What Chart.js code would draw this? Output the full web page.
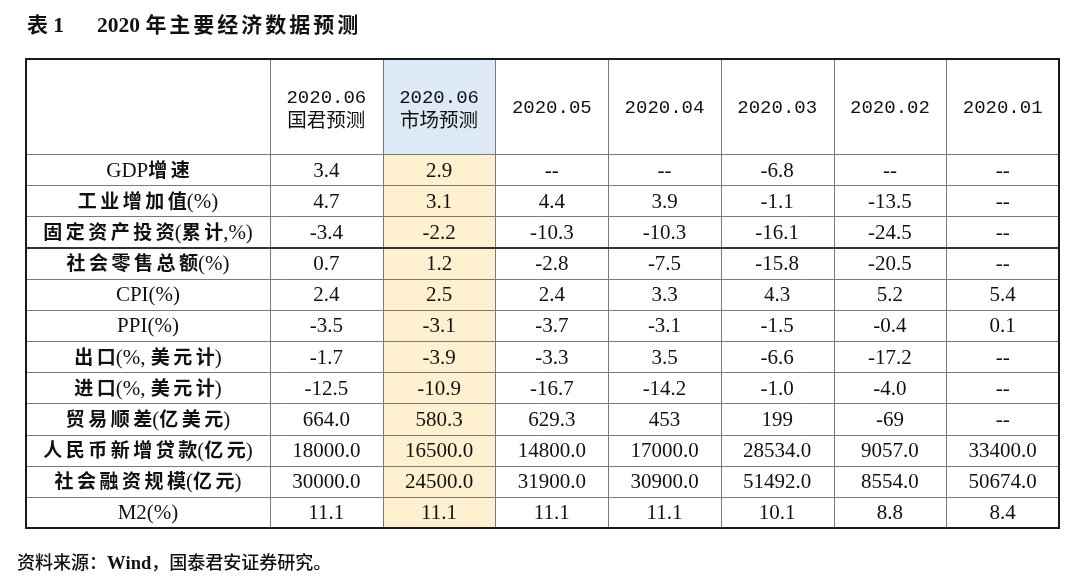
<!DOCTYPE html>
<html>
<head>
<meta charset="utf-8">
<script src="https://cdn.jsdelivr.net/npm/chart.js@4/dist/chart.umd.min.js"></script>
<style>
  body { margin: 0; background: #fff; }
</style>
</head>
<body>
<canvas id="table" width="1080" height="588"></canvas>
<script>
const titleNo = '表 1';
const titleText = '2020 年主要经济数据预测';
const sourceParts = ['资料来源：', 'Wind', '，国泰君安证券研究。'];

const periods = ['2020.06', '2020.06', '2020.05', '2020.04', '2020.03', '2020.02', '2020.01'];
const periodNotes = ['国君预测', '市场预测', '', '', '', '', ''];

const indicators = [
  'GDP增速', '工业增加值(%)', '固定资产投资(累计,%)', '社会零售总额(%)', 'CPI(%)', 'PPI(%)',
  '出口(%, 美元计)', '进口(%, 美元计)', '贸易顺差(亿美元)', '人民币新增贷款(亿元)', '社会融资规模(亿元)', 'M2(%)'
];

const gtjaForecast = ['3.4', '4.7', '-3.4', '0.7', '2.4', '-3.5', '-1.7', '-12.5', '664.0', '18000.0', '30000.0', '11.1'];
const marketForecast = ['2.9', '3.1', '-2.2', '1.2', '2.5', '-3.1', '-3.9', '-10.9', '580.3', '16500.0', '24500.0', '11.1'];
const may2020 = ['--', '4.4', '-10.3', '-2.8', '2.4', '-3.7', '-3.3', '-16.7', '629.3', '14800.0', '31900.0', '11.1'];
const apr2020 = ['--', '3.9', '-10.3', '-7.5', '3.3', '-3.1', '3.5', '-14.2', '453', '17000.0', '30900.0', '11.1'];
const mar2020 = ['-6.8', '-1.1', '-16.1', '-15.8', '4.3', '-1.5', '-6.6', '-1.0', '199', '28534.0', '51492.0', '10.1'];
const feb2020 = ['--', '-13.5', '-24.5', '-20.5', '5.2', '-0.4', '-17.2', '-4.0', '-69', '9057.0', '8554.0', '8.8'];
const jan2020 = ['--', '--', '--', '--', '5.4', '0.1', '--', '--', '--', '33400.0', '50674.0', '8.4'];

const columns = [gtjaForecast, marketForecast, may2020, apr2020, mar2020, feb2020, jan2020];

// table look
const highlightCol = 1;
const labelColWidth = 244;
const headerHeight = 95;
const ink = '#111';

function isCJK(ch) {
  return /[\u3000-\u303f\u4e00-\u9fff\uff00-\uffef]/.test(ch);
}

// draw text char by char, Latin and CJK in different fonts, extra gap between CJK chars
function drawMixed(ctx, text, x, y, latinFont, cjkFont, gap, align) {
  const chars = Array.from(text);
  const widths = chars.map((ch, i) => {
    ctx.font = isCJK(ch) ? cjkFont : latinFont;
    const next = chars[i + 1];
    return ctx.measureText(ch).width + (isCJK(ch) && next && isCJK(next) ? gap : 0);
  });
  const total = widths.reduce((a, b) => a + b, 0);
  let cx = align === 'center' ? x - total / 2 : x;
  ctx.textAlign = 'left';
  chars.forEach((ch, i) => {
    ctx.font = isCJK(ch) ? cjkFont : latinFont;
    ctx.fillText(ch, cx, y);
    cx += widths[i];
  });
  return cx;
}

const tablePlugin = {
  id: 'tableDraw',
  afterDraw(chart) {
    const { ctx, scales: { x, y } } = chart;
    const colW = x.getPixelForValue(1) - x.getPixelForValue(0);
    const rowH = y.getPixelForValue(1) - y.getPixelForValue(0);
    const left = x.left - labelColWidth;
    const right = x.right;
    const top = y.top - headerHeight;
    const bottom = y.bottom;

    ctx.save();
    ctx.fillStyle = '#fff';
    ctx.fillRect(0, 0, chart.width, chart.height);

    // highlighted column
    const hx = x.getPixelForValue(highlightCol) - colW / 2;
    ctx.fillStyle = '#dde9f6';
    ctx.fillRect(hx, top, colW, headerHeight);
    ctx.fillStyle = '#fff1cf';
    ctx.fillRect(hx, y.top, colW, bottom - y.top);

    // inner grid
    ctx.strokeStyle = '#7a7a7a';
    ctx.lineWidth = 1;
    ctx.beginPath();
    for (let r = 0; r < indicators.length; r++) {
      const py = Math.round(y.getPixelForValue(r) - rowH / 2) + 0.5;
      ctx.moveTo(left, py);
      ctx.lineTo(right, py);
    }
    const vx = [x.left];
    for (let c = 1; c < periods.length; c++) vx.push(x.getPixelForValue(c) - colW / 2);
    vx.forEach(v => {
      const px = Math.round(v) + 0.5;
      ctx.moveTo(px, top);
      ctx.lineTo(px, bottom);
    });
    ctx.stroke();

    // heavier rule under 固定资产投资
    ctx.strokeStyle = '#333';
    ctx.lineWidth = 2;
    ctx.beginPath();
    const ty = Math.round(y.getPixelForValue(3) - rowH / 2);
    ctx.moveTo(left, ty);
    ctx.lineTo(right, ty);
    ctx.stroke();

    // outer frame
    ctx.strokeStyle = '#1a1a1a';
    ctx.lineWidth = 2;
    ctx.strokeRect(Math.round(left), Math.round(top), Math.round(right - left), Math.round(bottom - top));

    ctx.fillStyle = ink;
    ctx.textBaseline = 'alphabetic';

    // header
    const monoFont = '19px "Liberation Mono"';
    const headCjk = '19.5px "Noto Sans CJK SC"';
    periods.forEach((p, c) => {
      const cx = x.getPixelForValue(c);
      if (periodNotes[c]) {
        drawMixed(ctx, p, cx, top + 44, monoFont, headCjk, 0, 'center');
        drawMixed(ctx, periodNotes[c], cx, top + 68, monoFont, headCjk, 0, 'center');
      } else {
        drawMixed(ctx, p, cx, top + 54, monoFont, headCjk, 0, 'center');
      }
    });

    // row labels and values
    indicators.forEach((name, r) => {
      const cy = y.getPixelForValue(r);
      drawMixed(ctx, name, (left + x.left) / 2, cy + 7, '21px "Liberation Serif"', 'bold 19px "Noto Sans CJK SC"', 3.5, 'center');
      columns.forEach((col, c) => {
        ctx.font = '21px "Liberation Serif"';
        ctx.textAlign = 'center';
        ctx.fillText(col[r], x.getPixelForValue(c), cy + 7);
      });
    });

    // title
    drawMixed(ctx, titleNo, 27, 32, 'bold 21.5px "Liberation Serif"', 'bold 21px "Noto Sans CJK SC"', 3, 'left');
    drawMixed(ctx, titleText, 97, 32, 'bold 21.5px "Liberation Serif"', 'bold 21px "Noto Sans CJK SC"', 3, 'left');

    // source note
    let sx = 17;
    sx = drawMixed(ctx, sourceParts[0], sx, 569, '18px "Liberation Serif"', '500 18px "Noto Sans CJK SC"', 0, 'left');
    sx = drawMixed(ctx, sourceParts[1], sx, 569, 'bold 18.5px "Liberation Serif"', '500 18px "Noto Sans CJK SC"', 0, 'left');
    drawMixed(ctx, sourceParts[2], sx, 569, '18px "Liberation Serif"', '500 18px "Noto Sans CJK SC"', 0, 'left');
    ctx.restore();
  }
};

new Chart(document.getElementById('table'), {
  type: 'scatter',
  data: { datasets: [{ data: [], pointRadius: 0 }] },
  options: {
    responsive: false,
    animation: false,
    events: [],
    layout: { padding: { left: 270, right: 21, top: 154, bottom: 60 } },
    plugins: { legend: { display: false }, tooltip: { enabled: false } },
    scales: {
      x: { type: 'category', labels: periods.map((p, i) => p + periodNotes[i]), offset: true, display: false },
      y: { type: 'category', labels: indicators, offset: true, display: false }
    }
  },
  plugins: [tablePlugin]
});
</script>
</body>
</html>
